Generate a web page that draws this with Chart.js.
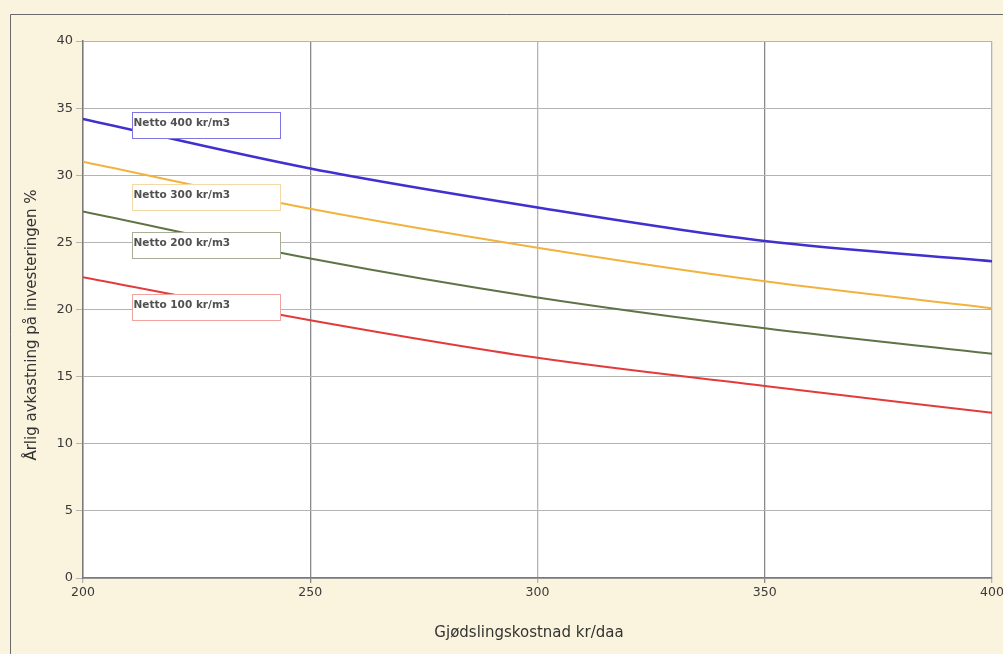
<!DOCTYPE html>
<html>
<head>
<meta charset="utf-8">
<style>
  html, body { margin: 0; padding: 0; background: #faf3dd; }
  canvas { display: block; }
</style>
<script src="https://cdn.jsdelivr.net/npm/chart.js@4/dist/chart.umd.min.js"></script>
</head>
<body>
<canvas id="chart" width="1003" height="654"></canvas>
<script>
// Gjødslingskostnad (kr/daa)
const costs = [200, 250, 300, 350, 400];
// årlig avkastning (%) per nettoverdi
const netto400 = [34.2, 30.5, 27.6, 25.1, 23.6];
const netto300 = [31.0, 27.5, 24.6, 22.1, 20.1];
const netto200 = [27.3, 23.8, 20.9, 18.6, 16.7];
const netto100 = [22.4, 19.2, 16.4, 14.3, 12.3];
const seriesNames = ["Netto 400 kr/m3", "Netto 300 kr/m3", "Netto 200 kr/m3", "Netto 100 kr/m3"];
const xTitle = "Gjødslingskostnad kr/daa";
const yTitle = "Årlig avkastning på investeringen %";

const FONT = "'DejaVu Sans', Verdana, sans-serif";
const toPoints = (vals) => vals.map((v, i) => ({ x: costs[i], y: v }));

// cream page + outer frame + white plot area + axis titles
const backdrop = {
  id: "backdrop",
  beforeDraw(chart) {
    const { ctx, chartArea: a } = chart;
    ctx.save();
    ctx.fillStyle = "#faf3dd";
    ctx.fillRect(0, 0, chart.width, chart.height);
    ctx.strokeStyle = "#6a6a6a";
    ctx.lineWidth = 1;
    ctx.beginPath();
    ctx.moveTo(10.5, chart.height);
    ctx.lineTo(10.5, 14.5);
    ctx.lineTo(chart.width, 14.5);
    ctx.stroke();
    ctx.fillStyle = "#ffffff";
    ctx.fillRect(a.left, a.top, a.right - a.left, a.bottom - a.top);

    ctx.fillStyle = "#333333";
    ctx.font = "15px " + FONT;
    ctx.textAlign = "center";
    ctx.textBaseline = "middle";
    ctx.fillText(xTitle, 529, 633);
    ctx.translate(32, 325);
    ctx.rotate(-Math.PI / 2);
    ctx.fillText(yTitle, 0, 0);
    ctx.restore();
  }
};

// label boxes, anchored in data values (left x, top y)
const boxes = [
  { x: 210.8, y: 34.7, border: "#7f76e2" },
  { x: 210.8, y: 29.35, border: "#f3d9a6" },
  { x: 210.8, y: 25.75, border: "#a7ad96" },
  { x: 210.8, y: 21.15, border: "#f0a4a0" }
];
const labelBoxes = {
  id: "labelBoxes",
  afterDatasetsDraw(chart) {
    const { ctx, scales: { x, y } } = chart;
    ctx.save();
    boxes.forEach((b, i) => {
      const left = Math.round(x.getPixelForValue(b.x)) + 0.5;
      const top = Math.round(y.getPixelForValue(b.y)) + 0.5;
      const w = 148, h = 26;
      ctx.fillStyle = "#ffffff";
      ctx.fillRect(left, top, w, h);
      ctx.strokeStyle = b.border;
      ctx.lineWidth = 1;
      ctx.strokeRect(left, top, w, h);
      ctx.fillStyle = "#505050";
      ctx.font = "bold 10.5px " + FONT;
      ctx.textBaseline = "middle";
      ctx.textAlign = "left";
      ctx.fillText(seriesNames[i], left + 1, top + 11);
    });
    ctx.restore();
  }
};

new Chart(document.getElementById("chart"), {
  type: "line",
  data: {
    datasets: [
      { label: seriesNames[0], data: toPoints(netto400), borderColor: "#3f30cf", borderWidth: 2.5 },
      { label: seriesNames[1], data: toPoints(netto300), borderColor: "#f2b23e", borderWidth: 2 },
      { label: seriesNames[2], data: toPoints(netto200), borderColor: "#5f7446", borderWidth: 2 },
      { label: seriesNames[3], data: toPoints(netto100), borderColor: "#e33b3b", borderWidth: 2 }
    ]
  },
  options: {
    responsive: false,
    animation: false,
    layout: { padding: { left: 0, top: 41, right: 11, bottom: 0 } },
    elements: {
      point: { radius: 0 },
      line: { tension: 0.4, cubicInterpolationMode: "monotone", fill: false }
    },
    plugins: {
      legend: { display: false },
      tooltip: { enabled: false }
    },
    scales: {
      x: {
        type: "linear",
        min: 200,
        max: 400,
        afterFit: (s) => { s.height = 76; s.paddingLeft = 0; s.paddingRight = 0; },
        ticks: {
          stepSize: 50,
          color: "#3a3a3a",
          padding: 2,
          font: { family: FONT, size: 12.5 }
        },
        grid: {
          color: (c) => (c.tick && (c.tick.value === 250 || c.tick.value === 350)) ? "#8a8a8a" : "#b4b4b4",
          lineWidth: 1.3,
          tickLength: 5
        },
        border: { color: "#7a7a7a", width: 1.5 }
      },
      y: {
        min: 0,
        max: 40,
        afterFit: (s) => { s.width = 83; s.paddingTop = 0; s.paddingBottom = 0; },
        ticks: {
          stepSize: 5,
          color: "#3a3a3a",
          padding: 3,
          font: { family: FONT, size: 13 }
        },
        grid: { color: "#b4b4b4", lineWidth: 1, tickLength: 7 },
        border: { color: "#7a7a7a", width: 1.5 }
      }
    }
  },
  plugins: [backdrop, labelBoxes]
});
</script>
</body>
</html>
